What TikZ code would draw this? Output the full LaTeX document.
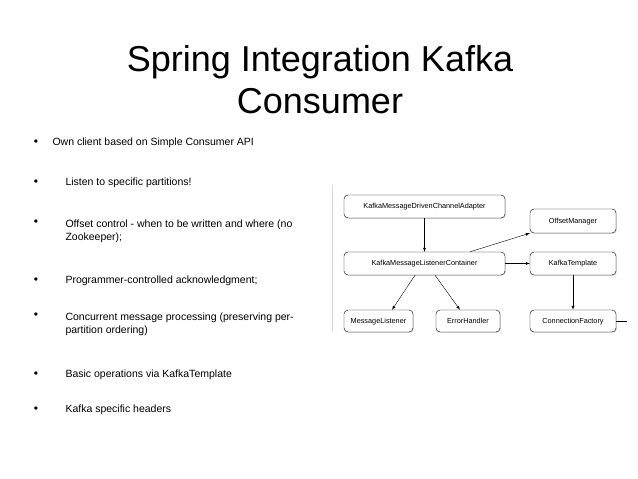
\documentclass[tikz,border=0pt]{standalone}
\usepackage{fontspec}
\setmainfont{Liberation Sans}
\usetikzlibrary{shadows}
\begin{document}
\begin{tikzpicture}[x=1pt,y=-1pt,
  box/.style={draw,rounded corners=4pt,fill=white,font=\fontsize{7.3}{8}\selectfont,inner sep=0pt,text height=5.5pt,text depth=1.5pt,drop shadow={shadow xshift=0.8pt,shadow yshift=-0.8pt,opacity=0.3}},
  arr/.style={-latex,thin},
  bul/.style={anchor=west,font=\fontsize{10.5}{13}\selectfont,align=left},
  dot/.style={anchor=center,font=\fontsize{12}{13}\selectfont}]
\useasboundingbox (0,0) rectangle (638,479);
\node (t1) at (320,62) {\fontsize{36}{40}\selectfont Spring Integration Kafka};
\node (t2) at (320,101) {\fontsize{36}{40}\selectfont Consumer};
\foreach \y/\x/\t in {143/52/{Own client based on Simple Consumer API},
  183/65/{Listen to specific partitions!},
  375/65/{Basic operations via KafkaTemplate},
  410/65/{Kafka specific headers}}{
  \node[dot] at (36,\y) {•};
  \node[bul] at (\x-3,\y) {\t};}
\node[dot] at (36,223) {•};
\node[bul,anchor=north west] at (62,216) {Offset control - when to be written and where (no\\Zookeeper);};
\node[dot] at (36,281) {•};
\node[bul] at (62,281) {Programmer-controlled acknowledgment;};
\node[dot] at (36,316) {•};
\node[bul,anchor=north west] at (62,309) {Concurrent message processing (preserving per-\\partition ordering)};
\draw[black!15] (332,185) -- (332,332);
\node[box,minimum width=161pt,minimum height=23pt] (a) at (424.5,206.5) {KafkaMessageDrivenChannelAdapter};
\node[box,minimum width=161pt,minimum height=23pt] (c) at (424.5,263.5) {KafkaMessageListenerContainer};
\node[box,minimum width=86pt,minimum height=24pt] (o) at (573,221) {OffsetManager};
\node[box,minimum width=86pt,minimum height=23pt] (k) at (573,263.5) {KafkaTemplate};
\node[box,minimum width=69pt,minimum height=22pt] (m) at (378.5,321) {MessageListener};
\node[box,minimum width=64pt,minimum height=22pt] (e) at (468,321) {ErrorHandler};
\node[box,minimum width=86pt,minimum height=22pt] (f) at (573,321) {ConnectionFactory};
\coordinate (fe) at (627,321);
\draw[arr] (a) -- (c);
\draw[arr] (c.north -| 470,0) -- (o.south west);
\draw[arr] (c) -- (k);
\draw[arr] (c.south -| 415,0) -- (m.north -| 392,0);
\draw[arr] (c.south -| 435,0) -- (e.north -| 460,0);
\draw[arr] (k) -- (f);
\draw[thin] (f.east) -- (fe);
\end{tikzpicture}
\end{document}
